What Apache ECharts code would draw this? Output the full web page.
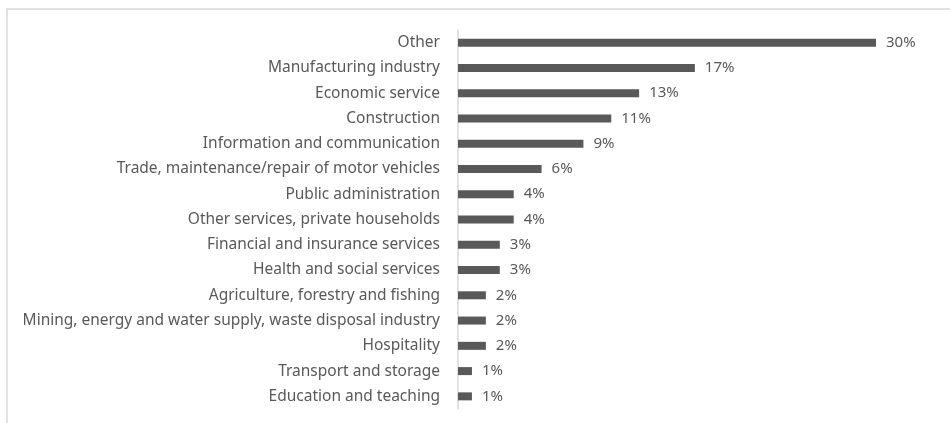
<!DOCTYPE html>
<html>
<head>
<meta charset="utf-8">
<script src="https://cdn.jsdelivr.net/npm/echarts@6/dist/echarts.min.js"></script>
<style>
  html, body { margin: 0; padding: 0; background: #ffffff; }
  #chart { width: 950px; height: 423px; }
</style>
</head>
<body>
<div id="chart"></div>
<script>
// Sectors, listed top to bottom
const sectors = [
  'Other',
  'Manufacturing industry',
  'Economic service',
  'Construction',
  'Information and communication',
  'Trade, maintenance/repair of motor vehicles',
  'Public administration',
  'Other services, private households',
  'Financial and insurance services',
  'Health and social services',
  'Agriculture, forestry and fishing',
  'Mining, energy and water supply, waste disposal industry',
  'Hospitality',
  'Transport and storage',
  'Education and teaching'
];

// Share of each sector, in percent
const shares = [30, 17, 13, 11, 9, 6, 4, 4, 3, 3, 2, 2, 2, 1, 1];

const textColor = '#595959';
const fontFamily = '"Noto Sans", "Open Sans", sans-serif';

const chart = echarts.init(document.getElementById('chart'), null, { renderer: 'canvas' });

chart.setOption({
  animation: false,
  backgroundColor: '#ffffff',
  graphic: [{
    type: 'rect',
    shape: { x: 7, y: 9, width: 1000, height: 500 },
    style: { fill: 'none', stroke: '#d9d9d9', lineWidth: 1.5 },
    silent: true
  }],
  grid: {
    left: 458,
    right: 74,
    top: 30,
    bottom: 14,
    containLabel: false
  },
  xAxis: {
    type: 'value',
    min: 0,
    max: 30,
    show: false
  },
  yAxis: {
    type: 'category',
    data: sectors,
    inverse: true,
    axisLine: { show: true, lineStyle: { color: '#d9d9d9', width: 1.5 } },
    axisTick: { show: false },
    splitLine: { show: false },
    axisLabel: {
      color: textColor,
      fontSize: 15.5,
      fontFamily: fontFamily,
      margin: 18
    }
  },
  series: [{
    type: 'bar',
    data: shares,
    barWidth: 8,
    itemStyle: { color: '#595959' },
    label: {
      show: true,
      position: 'right',
      distance: 10,
      color: textColor,
      fontSize: 15,
      fontFamily: fontFamily,
      formatter: p => p.value + '%'
    }
  }]
});
</script>
</body>
</html>
